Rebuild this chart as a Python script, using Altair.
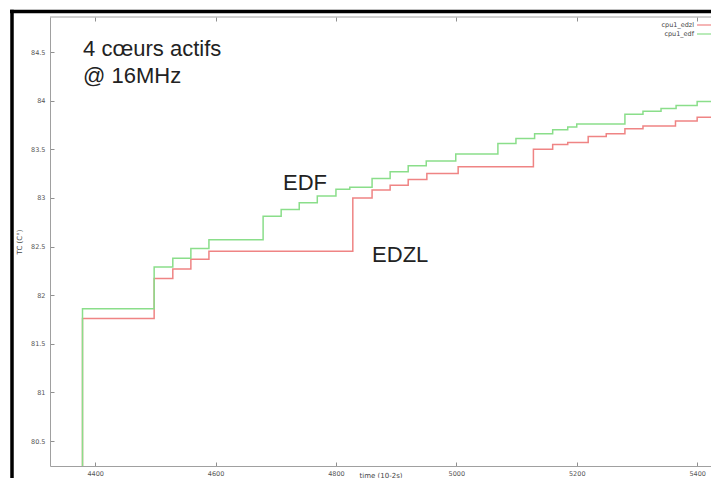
import altair as alt
import pandas as pd

W, H = 661, 449

series_names = ["cpu1_edzl", "cpu1_edf"]
series_colors = ["#ef8484", "#8ade8a"]

# cpu1_edzl (red) step series
edzl_time = [4379, 4379, 4498, 4529, 4559, 4589, 4828, 4860, 4890, 4920, 4951, 5003,
             5128, 5160, 5185, 5219, 5249, 5280, 5310, 5364, 5400, 5440]
edzl_temp = [80.0, 81.76, 82.17, 82.27, 82.37, 82.45, 83.00, 83.08, 83.13, 83.19, 83.25, 83.32,
             83.50, 83.55, 83.57, 83.63, 83.66, 83.71, 83.74, 83.79, 83.83, 83.83]

# cpu1_edf (green) step series
edf_time = [4379, 4379, 4498, 4529, 4559, 4589, 4679, 4709, 4739, 4769, 4800, 4823, 4860,
            4890, 4920, 4950, 4999, 5069, 5099, 5130, 5160, 5185, 5200, 5280, 5310, 5340,
            5365, 5400, 5440]
edf_temp = [80.0, 81.86, 82.29, 82.38, 82.48, 82.57, 82.81, 82.88, 82.95, 83.02, 83.09, 83.11, 83.20,
            83.27, 83.33, 83.38, 83.45, 83.56, 83.61, 83.66, 83.70, 83.73, 83.76, 83.86, 83.89, 83.92,
            83.95, 83.99, 83.99]

x_ticks = [4400, 4600, 4800, 5000, 5200, 5400]
y_ticks = [80.5, 81, 81.5, 82, 82.5, 83, 83.5, 84, 84.5]
x_domain = [4325, 5423]
y_domain = [80.243, 84.86]

ann_text = ["4 cœurs actifs", "@ 16MHz", "EDF", "EDZL"]
ann_time = [4380, 4380, 4712, 4860]
ann_temp = [84.46, 84.18, 83.081, 82.341]

rows = []
for name, ts, vs in ((series_names[0], edzl_time, edzl_temp),
                     (series_names[1], edf_time, edf_temp)):
    for i, (t, v) in enumerate(zip(ts, vs)):
        rows.append({"series": name, "time": t, "temp": v, "idx": i})
df = pd.DataFrame(rows)

color = alt.Color("series:N", scale=alt.Scale(domain=series_names, range=series_colors), legend=None)
x_scale = alt.Scale(domain=x_domain, nice=False, zero=False)
y_scale = alt.Scale(domain=y_domain, nice=False, zero=False)

x_axis = alt.Axis(orient="bottom", values=x_ticks, format="d", title="time (10-2s)",
                  grid=True, gridDash=[4, H - 8], labelPadding=4,
                  titleBaseline="top", titleY=5)
y_axis = alt.Axis(orient="left", values=y_ticks, format="~g", title="TC (C°)",
                  grid=True, gridDash=[4, 2000], labelPadding=5,
                  titleX=-28, titleY=H / 2)

lines = alt.Chart(df).mark_line(interpolate="step-after", strokeWidth=1.5, clip=True).encode(
    x=alt.X("time:Q", scale=x_scale, axis=x_axis),
    y=alt.Y("temp:Q", scale=y_scale, axis=y_axis),
    color=color,
    order="idx:Q",
)

ann_df = pd.DataFrame({"label": ann_text, "time": ann_time, "temp": ann_temp})
ann = alt.Chart(ann_df).mark_text(align="left", baseline="alphabetic", font="Liberation Sans",
                                  fontSize=22, color="#222").encode(
    x=alt.X("time:Q", scale=x_scale, axis=x_axis),
    y=alt.Y("temp:Q", scale=y_scale, axis=y_axis),
    text="label:N",
)

one = pd.DataFrame({"k": [0]})
border_top = alt.Chart(one).mark_rule(color="#a0a0a0", strokeWidth=1).encode(
    x=alt.value(0), x2=alt.value(W + 20), y=alt.value(0))
frame_top = alt.Chart(one).mark_rule(color="black", strokeWidth=3.5).encode(
    x=alt.value(-40), x2=alt.value(W + 20), y=alt.value(-5.5))
frame_left = alt.Chart(one).mark_rule(color="black", strokeWidth=3.5).encode(
    x=alt.value(-38), y=alt.value(-7.25), y2=alt.value(H + 40))

leg_layers = []
for i, name in enumerate(series_names):
    sub = pd.DataFrame({"series": [name]})
    yy = 8 + 9 * i
    leg_layers.append(alt.Chart(sub).mark_text(align="right", baseline="middle", font="DejaVu Sans",
                                               fontSize=6.5, color="#444").encode(
        x=alt.value(644), y=alt.value(yy), text="series:N"))
    leg_layers.append(alt.Chart(sub).mark_rule(strokeWidth=1.2).encode(
        x=alt.value(647), x2=alt.value(666), y=alt.value(yy), color=color))

chart = alt.layer(lines, ann, border_top, frame_top, frame_left, *leg_layers).properties(
    width=W, height=H,
    autosize=alt.AutoSizeParams(type="none"),
    padding={"left": 42, "top": 9, "right": 0, "bottom": 12},
).configure_view(stroke=None).configure_axis(
    labelFont="DejaVu Sans", labelFontSize=6.5, labelColor="#555",
    titleFont="DejaVu Sans", titleFontSize=7, titleFontWeight="normal", titleColor="#444",
    domainColor="#a0a0a0", domainWidth=1, gridColor="#909090", gridWidth=1,
    ticks=False, tickSize=0,
)

chart.save("out.html", embed_options={"renderer": "svg", "actions": False})
